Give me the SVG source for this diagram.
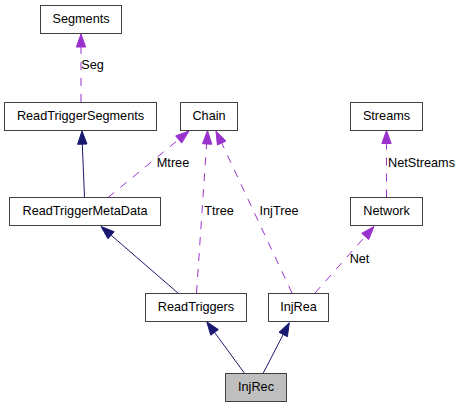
<svg xmlns="http://www.w3.org/2000/svg" width="463" height="408" viewBox="0 0 463 408">
<style>
text{font-family:"Liberation Sans",Arial,sans-serif;font-size:12.7px;fill:#000}
.n text{text-anchor:middle}
.box{fill:#fff;stroke:#404040;stroke-width:1}
.cur{fill:#bfbfbf;stroke:#404040;stroke-width:1}
.inh{fill:none;stroke:#191970;stroke-width:1}
.inhh{fill:#191970;stroke:#191970;stroke-width:1}
.use{fill:none;stroke:#9a32cd;stroke-width:1;stroke-dasharray:8,8}
.useh{fill:#9a32cd;stroke:#9a32cd;stroke-width:1}
.lbl{text-anchor:middle}
</style>
<rect width="463" height="408" fill="#fff"/>
<g id="edges">
<line class="use" x1="81" y1="102" x2="81" y2="47"/>
<polygon class="useh" points="81,34 85.7,47 76.3,47"/>
<text class="lbl" x="92.5" y="69">Seg</text>

<line class="inh" x1="84.5" y1="197.5" x2="82.3" y2="144"/>
<polygon class="inhh" points="82,131 87,144 77.6,144.3"/>

<line class="use" x1="108" y1="197.5" x2="178.7" y2="139.5"/>
<polygon class="useh" points="189,131 181.7,143.1 175.7,135.9"/>
<text class="lbl" x="173" y="167">Mtree</text>

<line class="use" x1="196.5" y1="293" x2="206.6" y2="144"/>
<polygon class="useh" points="207.5,130.5 211.9,144.3 202.5,143.7"/>
<text class="lbl" x="219" y="214.5">Ttree</text>

<line class="use" x1="292" y1="293" x2="221.7" y2="143"/>
<polygon class="useh" points="216,131 225.9,141 217.4,145"/>
<text class="lbl" x="279" y="214.5">InjTree</text>

<line class="use" x1="386.5" y1="197.5" x2="386.5" y2="143.5"/>
<polygon class="useh" points="386.5,130.5 391.2,143.5 381.8,143.5"/>
<text class="lbl" x="421.5" y="167">NetStreams</text>

<line class="use" x1="315" y1="293" x2="365.2" y2="236.4"/>
<polygon class="useh" points="374,226.5 368.7,239.5 361.7,233.3"/>
<text class="lbl" x="359.5" y="263">Net</text>

<line class="inh" x1="178.5" y1="293.5" x2="111.1" y2="235.2"/>
<polygon class="inhh" points="101,226.5 114.2,231.7 108,238.8"/>

<line class="inh" x1="244.3" y1="373" x2="214.6" y2="332.4"/>
<polygon class="inhh" points="206.7,321.7 218.4,329.6 210.8,335.2"/>

<line class="inh" x1="263.3" y1="373" x2="283.2" y2="334.5"/>
<polygon class="inhh" points="289.3,322.7 287.4,336.7 279,332.3"/>
</g>
<g id="Segments" class="n"><rect class="box" x="40.5" y="5.5" width="81" height="28"/><text x="81" y="22.7">Segments</text></g>
<g id="ReadTriggerSegments" class="n"><rect class="box" x="4.5" y="102.5" width="152" height="28"/><text x="80.5" y="119.7">ReadTriggerSegments</text></g>
<g id="Chain" class="n"><rect class="box" x="180.5" y="102.5" width="57" height="28"/><text x="209" y="119.7">Chain</text></g>
<g id="Streams" class="n"><rect class="box" x="350.5" y="102.5" width="72" height="28"/><text x="386.5" y="119.7">Streams</text></g>
<g id="ReadTriggerMetaData" class="n"><rect class="box" x="9.5" y="197.5" width="151" height="28"/><text x="85" y="214.7">ReadTriggerMetaData</text></g>
<g id="Network" class="n"><rect class="box" x="350.5" y="197.5" width="72" height="28"/><text x="386.5" y="214.7">Network</text></g>
<g id="ReadTriggers" class="n"><rect class="box" x="145.5" y="293.5" width="101" height="28"/><text x="196" y="310.7">ReadTriggers</text></g>
<g id="InjRea" class="n"><rect class="box" x="268.5" y="293.5" width="60" height="28"/><text x="298.5" y="310.7">InjRea</text></g>
<g id="InjRec" class="n"><rect class="cur" x="225.5" y="373.5" width="61" height="28"/><text x="256" y="390.7">InjRec</text></g>
</svg>
